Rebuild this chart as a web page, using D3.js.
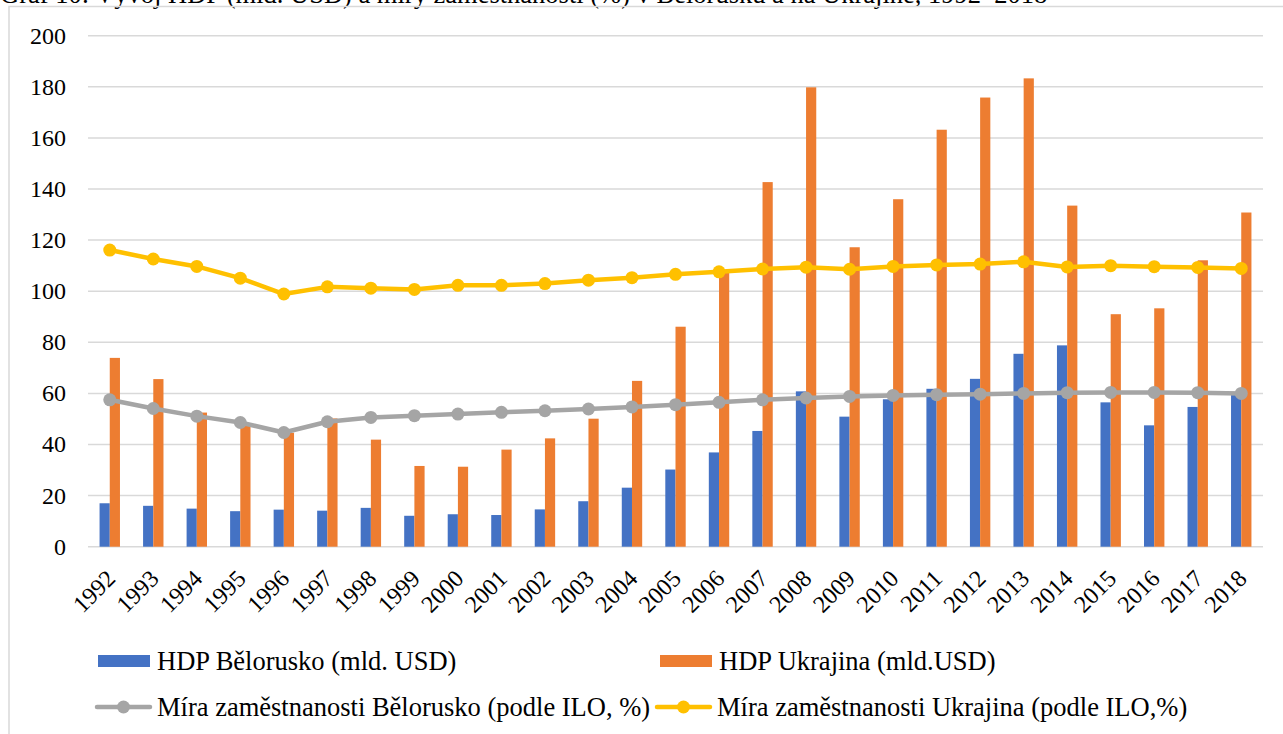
<!DOCTYPE html>
<html><head><meta charset="utf-8">
<script src="https://cdn.jsdelivr.net/npm/d3@7"></script>
<style>body{margin:0;background:#fff}svg{display:block}svg text{font-family:"Liberation Serif","Times New Roman",Tinos,"DejaVu Serif",serif}</style>
</head><body>
<svg id="c" width="1283" height="734"></svg>
<script>
const years = ["1992","1993","1994","1995","1996","1997","1998","1999","2000","2001","2002","2003","2004","2005","2006","2007","2008","2009","2010","2011","2012","2013","2014","2015","2016","2017","2018"];
const gdpBelarus = [17.0,16.0,14.9,13.9,14.5,14.1,15.2,12.1,12.7,12.4,14.6,17.8,23.1,30.2,36.9,45.3,60.8,50.9,57.7,61.8,65.7,75.5,78.8,56.5,47.5,54.7,59.7];
const gdpUkraine = [73.9,65.6,52.5,48.2,44.6,50.2,41.9,31.6,31.3,38.0,42.4,50.1,64.9,86.1,107.8,142.7,179.8,117.2,136.0,163.2,175.8,183.3,133.5,91.0,93.3,112.1,130.8];
const empBelarus = [57.5,54.1,51.1,48.6,44.7,48.9,50.6,51.3,51.9,52.6,53.2,53.9,54.7,55.6,56.5,57.5,58.2,58.8,59.2,59.5,59.7,60.0,60.3,60.4,60.4,60.3,60.0];
const empUkraine = [116.1,112.6,109.7,105.1,98.9,101.7,101.2,100.7,102.3,102.3,103.0,104.3,105.3,106.6,107.6,108.7,109.4,108.6,109.7,110.3,110.6,111.5,109.5,110.0,109.6,109.3,108.9];
const yTicks = [0,20,40,60,80,100,120,140,160,180,200];
const legendItems = ["HDP Bělorusko (mld. USD)","HDP Ukrajina (mld.USD)","Míra zaměstnanosti Bělorusko (podle ILO, %)","Míra zaměstnanosti Ukrajina (podle ILO,%)"];
const titleText = "Graf 10: Vývoj HDP (mld. USD) a míry zaměstnanosti (%) v Bělorusku a na Ukrajině, 1992–2018";

const C = {blue:"#4472C4", orange:"#ED7D31", gray:"#A5A5A5", yellow:"#FFC000", grid:"#D9D9D9"};
const svg = d3.select("#c");

// title (cut off at top, as in the source image) and frame
svg.append("text").attr("x",0).attr("y",3).attr("font-size",26.5)
  .attr("fill","#000").text(titleText);
svg.append("path").attr("d","M9,734 V6.5 H1283").attr("fill","none").attr("stroke",C.grid).attr("stroke-width",1.5);

const x = d3.scaleBand().domain(years).range([88,1263]).paddingInner(0).paddingOuter(0);
const y = d3.scaleLinear().domain([0,200]).range([546.7,35.7]);

svg.append("g").selectAll("line").data(yTicks).join("line")
  .attr("x1",88).attr("x2",1263).attr("y1",d=>y(d)).attr("y2",d=>y(d))
  .attr("stroke",C.grid).attr("stroke-width",1.5);

svg.append("g").selectAll("text").data(yTicks).join("text")
  .attr("x",66).attr("y",d=>y(d)).attr("dy","0.33em").attr("text-anchor","end")
  .attr("font-size",24).attr("fill","#000").text(d=>d);

const bw = 10.2;
const cx = d => x(d)+x.bandwidth()/2;
svg.append("g").selectAll("rect").data(years).join("rect")
  .attr("x",(d)=>cx(d)-bw).attr("width",bw)
  .attr("y",(d,i)=>y(gdpBelarus[i])).attr("height",(d,i)=>y(0)-y(gdpBelarus[i]))
  .attr("fill",C.blue);
svg.append("g").selectAll("rect").data(years).join("rect")
  .attr("x",(d)=>cx(d)).attr("width",bw)
  .attr("y",(d,i)=>y(gdpUkraine[i])).attr("height",(d,i)=>y(0)-y(gdpUkraine[i]))
  .attr("fill",C.orange);

function drawLine(vals,color){
  const line = d3.line().x((d,i)=>cx(years[i])).y(d=>y(d));
  svg.append("path").datum(vals).attr("d",line).attr("fill","none")
    .attr("stroke",color).attr("stroke-width",4.5).attr("stroke-linejoin","round");
  svg.append("g").selectAll("circle").data(vals).join("circle")
    .attr("cx",(d,i)=>cx(years[i])).attr("cy",d=>y(d)).attr("r",6.5).attr("fill",color);
}
drawLine(empBelarus,C.gray);
drawLine(empUkraine,C.yellow);

svg.append("g").selectAll("text").data(years).join("text")
  .attr("transform",d=>`translate(${cx(d)+7},${580}) rotate(-45)`)
  .attr("text-anchor","end").attr("font-size",24).attr("fill","#000")
  .text(d=>d);

const lg = svg.append("g").attr("font-size",26.5).attr("fill","#000");
const lpos = [{x:98,y:661,t:"bar",c:C.blue},{x:660,y:661,t:"bar",c:C.orange},{x:97,y:707,t:"line",c:C.gray},{x:657,y:707,t:"line",c:C.yellow}];
lpos.forEach((p,i)=>{
  if(p.t==="bar"){
    lg.append("rect").attr("x",p.x).attr("y",p.y-6).attr("width",52).attr("height",12).attr("fill",p.c);
  } else {
    lg.append("line").attr("x1",p.x).attr("x2",p.x+53).attr("y1",p.y).attr("y2",p.y)
      .attr("stroke",p.c).attr("stroke-width",4.5).attr("stroke-linecap","round");
    lg.append("circle").attr("cx",p.x+26.5).attr("cy",p.y).attr("r",6.5).attr("fill",p.c);
  }
  lg.append("text").attr("x",p.x+(p.t==="bar"?59:60)).attr("y",p.y).attr("dy","0.33em").text(legendItems[i]);
});
</script>
</body></html>
